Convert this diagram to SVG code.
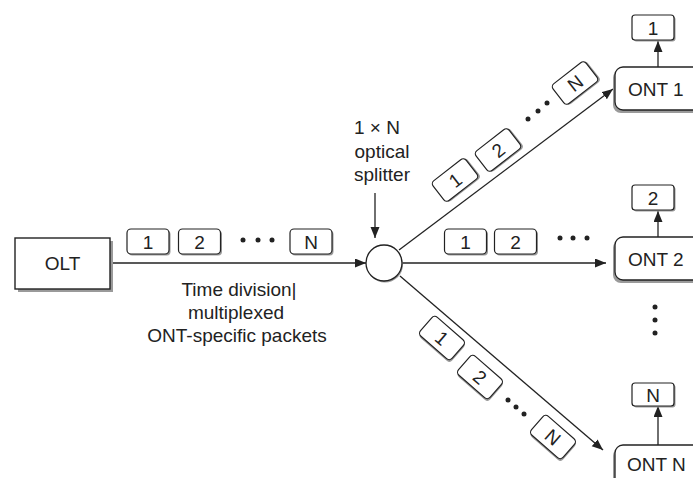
<svg xmlns="http://www.w3.org/2000/svg" width="693" height="478" viewBox="0 0 693 478">
<style>
text{font-family:"Liberation Sans",Arial,sans-serif;font-size:19px;fill:#222}
.c{text-anchor:middle}
.ln{stroke:#222;stroke-width:1.3;fill:none}
.pk{fill:#fff;stroke:#222;stroke-width:1.2}
.sh{fill:#9a9a9a}
.dot{fill:#222}
</style>
<defs>
<marker id="ah" markerUnits="userSpaceOnUse" markerWidth="12" markerHeight="10" refX="11" refY="4.5" orient="auto">
<path d="M0,0 L11,4.5 L0,9 z" fill="#222"/>
</marker>
<g id="pkt"><rect class="sh" x="-19.5" y="-11" width="42" height="25" rx="4"/><rect class="pk" x="-21" y="-12.5" width="42" height="25" rx="4"/></g>
</defs>

<g id="connectors">
<line class="ln" x1="110" y1="263" x2="366" y2="263" marker-end="url(#ah)"/>
<line class="ln" x1="375" y1="193" x2="375" y2="238" marker-end="url(#ah)"/>
<line class="ln" x1="402" y1="263" x2="606" y2="263" marker-end="url(#ah)"/>
<line class="ln" x1="399" y1="250" x2="613" y2="89" marker-end="url(#ah)"/>
<line class="ln" x1="400" y1="276" x2="603" y2="450" marker-end="url(#ah)"/>
<line class="ln" x1="658" y1="67" x2="658" y2="41" marker-end="url(#ah)"/>
<line class="ln" x1="658" y1="237" x2="658" y2="211" marker-end="url(#ah)"/>
<line class="ln" x1="658" y1="445" x2="658" y2="406" marker-end="url(#ah)"/>
</g>

<g id="olt">
<rect class="sh" x="18" y="241" width="95" height="51"/>
<rect x="15" y="238" width="95" height="51" fill="#fff" stroke="#222" stroke-width="1.4"/>
<text class="c" x="62.5" y="270">OLT</text>
</g>

<g id="splitter">
<circle cx="385" cy="264.5" r="18" fill="#9a9a9a"/>
<circle cx="384" cy="263" r="18" fill="#fff" stroke="#222" stroke-width="1.3"/>
<text class="c" x="377" y="134">1 × N</text>
<text class="c" x="382" y="158">optical</text>
<text class="c" x="382" y="181">splitter</text>
</g>

<g id="label-tdm">
<text class="c" x="239" y="296">Time division|</text>
<text class="c" x="236" y="319">multiplexed</text>
<text class="c" x="237" y="342">ONT-specific packets</text>
</g>

<g id="packets-olt">
<use href="#pkt" transform="translate(148,241.5)"/><text class="c" x="148" y="248.5">1</text>
<use href="#pkt" transform="translate(199.5,241.5)"/><text class="c" x="199.5" y="248.5">2</text>
<circle class="dot" cx="243" cy="240" r="2.5"/><circle class="dot" cx="258" cy="240" r="2.5"/><circle class="dot" cx="272" cy="240" r="2.5"/>
<use href="#pkt" transform="translate(311,241.5)"/><text class="c" x="311" y="248.5">N</text>
</g>

<g id="packets-ont2">
<use href="#pkt" transform="translate(465.5,241.5)"/><text class="c" x="465.5" y="248.5">1</text>
<use href="#pkt" transform="translate(515.5,241.5)"/><text class="c" x="515.5" y="248.5">2</text>
<circle class="dot" cx="560" cy="238" r="2.5"/><circle class="dot" cx="573" cy="238" r="2.5"/><circle class="dot" cx="587" cy="238" r="2.5"/>
</g>

<g id="packets-ont1">
<g transform="translate(455,180) rotate(-38)"><use href="#pkt"/><text class="c" x="0" y="7">1</text></g>
<g transform="translate(498,150) rotate(-38)"><use href="#pkt"/><text class="c" x="0" y="7">2</text></g>
<circle class="dot" cx="528" cy="119" r="2.5"/><circle class="dot" cx="538" cy="111" r="2.5"/><circle class="dot" cx="547" cy="103" r="2.5"/>
<g transform="translate(575,83) rotate(-38)"><use href="#pkt"/><text class="c" x="0" y="7">N</text></g>
</g>

<g id="packets-ontn">
<g transform="translate(442,338) rotate(41)"><use href="#pkt"/><text class="c" x="0" y="7">1</text></g>
<g transform="translate(480,377) rotate(41)"><use href="#pkt"/><text class="c" x="0" y="7">2</text></g>
<circle class="dot" cx="508" cy="400" r="2.5"/><circle class="dot" cx="516" cy="407" r="2.5"/><circle class="dot" cx="524" cy="414" r="2.5"/>
<g transform="translate(553,437) rotate(41)"><use href="#pkt"/><text class="c" x="0" y="7">N</text></g>
</g>

<g id="ont1">
<rect class="sh" x="613" y="70" width="100" height="43" rx="8"/>
<rect x="615" y="67" width="100" height="43" rx="8" fill="#fff" stroke="#222" stroke-width="1.3"/>
<text x="628" y="96">ONT 1</text>
<rect class="sh" x="633.5" y="16.5" width="42" height="25" rx="3"/>
<rect class="pk" x="632" y="15" width="42" height="25" rx="3"/>
<text class="c" x="653" y="34.5">1</text>
</g>

<g id="ont2">
<rect class="sh" x="613" y="240" width="100" height="43" rx="8"/>
<rect x="615" y="237" width="100" height="43" rx="8" fill="#fff" stroke="#222" stroke-width="1.3"/>
<text x="628" y="266">ONT 2</text>
<rect class="sh" x="633.5" y="186.5" width="42" height="25" rx="3"/>
<rect class="pk" x="632" y="185" width="42" height="25" rx="3"/>
<text class="c" x="653" y="204.5">2</text>
</g>

<g id="ont-dots">
<circle class="dot" cx="655" cy="307" r="2.5"/><circle class="dot" cx="655" cy="320" r="2.5"/><circle class="dot" cx="655" cy="333" r="2.5"/>
</g>

<g id="ontn">
<rect class="sh" x="613" y="448" width="100" height="43" rx="8"/>
<rect x="615" y="445" width="100" height="43" rx="8" fill="#fff" stroke="#222" stroke-width="1.3"/>
<text x="627" y="471">ONT N</text>
<rect class="sh" x="633.5" y="384.5" width="42" height="23" rx="3"/>
<rect class="pk" x="632" y="383" width="42" height="23" rx="3"/>
<text class="c" x="653" y="401.5">N</text>
</g>
</svg>
